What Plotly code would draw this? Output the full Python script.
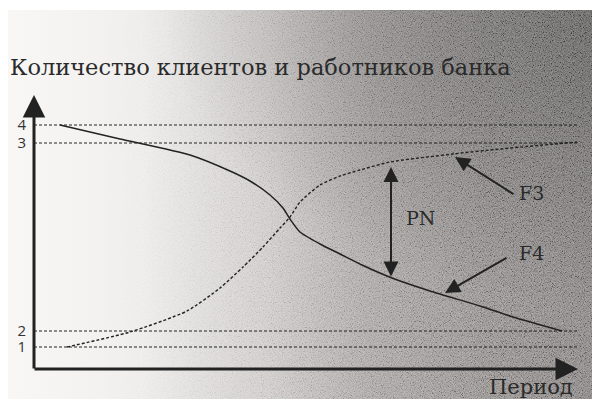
import base64
import plotly.graph_objects as go

# levels on the vertical axis (label -> position on the axis)
level_labels = ["1", "2", "3", "4"]
level_pos = [2.2, 3.8, 22.6, 24.4]

# F4 – staff (solid)
f4_x = [2.6, 8.6, 15.6, 19.6, 21.6, 23.6, 24.9, 25.6, 26.6, 28.6, 30.6, 32.8, 35.8, 39.6, 44.6, 47.9, 52.8]
f4_y = [24.4, 23.0, 21.4, 19.8, 18.8, 17.4, 16.1, 15.0, 13.7, 12.5, 11.5, 10.4, 9.1, 7.8, 6.3, 5.2, 3.8]

# F3 – clients (dashed)
f3_x = [3.3, 9.6, 15.3, 18.6, 20.9, 22.9, 24.6, 25.6, 26.6, 28.6, 30.6, 32.6, 35.6, 41.9, 46.6, 54.3]
f3_y = [2.2, 3.7, 5.8, 8.1, 10.2, 12.2, 14.1, 15.2, 16.7, 18.4, 19.3, 19.9, 20.7, 21.5, 22.0, 22.7]

x_end = 54.3
ink = "#222222"
serif = "DejaVu Serif"

svg = """<svg xmlns="http://www.w3.org/2000/svg" width="620" height="397" viewBox="0 0 620 397">
<defs>
<linearGradient id="g" x1="0" y1="0" x2="1" y2="0">
<stop offset="0" stop-color="#f8f7f6"/>
<stop offset="0.22" stop-color="#f0efee"/>
<stop offset="0.42" stop-color="#d6d3d1"/>
<stop offset="0.58" stop-color="#b2aeac"/>
<stop offset="0.78" stop-color="#94908e"/>
<stop offset="1" stop-color="#807c7a"/>
</linearGradient>
<radialGradient id="r" cx="1" cy="0" r="0.75">
<stop offset="0" stop-color="#000" stop-opacity="0.36"/>
<stop offset="1" stop-color="#000" stop-opacity="0"/>
</radialGradient>
<linearGradient id="mg" x1="0" y1="0" x2="1" y2="0">
<stop offset="0.15" stop-color="#000"/>
<stop offset="0.8" stop-color="#fff"/>
</linearGradient>
<mask id="mk"><rect width="620" height="397" fill="url(#mg)"/></mask>
<filter id="n" x="0" y="0" width="100%" height="100%">
<feTurbulence type="fractalNoise" baseFrequency="1.1 0.8" numOctaves="2" seed="7"/>
<feColorMatrix type="matrix" values="2.0 0 0 0 -0.5 2.0 0 0 0 -0.5 2.0 0 0 0 -0.5 0 0 0 0 1"/>
</filter>
</defs>
<rect width="620" height="397" fill="url(#g)"/>
<rect width="620" height="397" fill="url(#r)"/>
<rect width="620" height="397" filter="url(#n)" opacity="0.3" mask="url(#mk)"/>
</svg>"""
bg_src = "data:image/svg+xml;base64," + base64.b64encode(svg.encode()).decode()

fig = go.Figure()

for y in level_pos:
    fig.add_trace(go.Scatter(x=[0, x_end], y=[y, y], mode="lines",
                             line=dict(color=ink, width=1, dash="3px,2px"),
                             hoverinfo="skip"))

fig.add_trace(go.Scatter(x=f4_x, y=f4_y, mode="lines", name="F4",
                         line=dict(color=ink, width=1.5, shape="spline", smoothing=0.6)))
fig.add_trace(go.Scatter(x=f3_x, y=f3_y, mode="lines", name="F3",
                         line=dict(color=ink, width=1.4, dash="3px,2px", shape="spline", smoothing=0.6)))


def arrow(x0, y0, x1, y1, width=2, size=1.0, side="end", head=2):
    fig.add_annotation(x=x1, y=y1, ax=x0, ay=y0, xref="x", yref="y", axref="x", ayref="y",
                       text="", showarrow=True, arrowhead=head, startarrowhead=head,
                       arrowside=side, arrowsize=size, startarrowsize=size,
                       arrowwidth=width, arrowcolor=ink)


# axes with arrows
arrow(0, -0.1, 0, 27.4, width=3, size=1.5)
arrow(-0.1, 0, 54.4, 0, width=3, size=1.5)
# PN, F3, F4
arrow(35.7, 9.1, 35.7, 20.2, width=2, size=1.5, side="end+start")
arrow(48.1, 17.4, 42.1, 21.2, width=2, size=1.5)
arrow(47.4, 11.2, 41.1, 7.6, width=2, size=1.5)

for txt, x, y in [("PN", 38.6, 15.1), ("F3", 49.7, 17.6), ("F4", 49.7, 11.6)]:
    fig.add_annotation(x=x, y=y, text=txt, showarrow=False, xanchor="center", yanchor="middle",
                       font=dict(family=serif, size=19, color="#2a2a2a"))

# plot area is 574x361; the page adds an 8px body margin
fig.add_annotation(x=541 / 574, y=-18 / 361, xref="paper", yref="paper", text="Период",
                   showarrow=False, xanchor="right", yanchor="middle",
                   font=dict(family=serif, size=21, color="#2a2a2a"))

fig.add_layout_image(dict(source=bg_src, xref="paper", yref="paper",
                          x=-26 / 574, y=1 - 2 / 361, sizex=620 / 574, sizey=397 / 361,
                          xanchor="left", yanchor="top", sizing="stretch", layer="below"))

fig.update_layout(
    width=600, height=399,
    margin=dict(l=26, r=0, t=0, b=38, autoexpand=False),
    paper_bgcolor="white", plot_bgcolor="rgba(0,0,0,0)",
    showlegend=False,
    title=dict(text="Количество клиентов и работников банка", x=2 / 600, xanchor="left",
               y=1 - 59 / 399, yanchor="middle",
               font=dict(family=serif, size=22.5, color="#2a2a2a")),
    xaxis=dict(range=[0, 57.4], visible=False, fixedrange=True),
    yaxis=dict(range=[0, 36.1], showgrid=False, zeroline=False, showline=False, automargin=False,
               tickvals=level_pos, ticktext=level_labels, ticks="", ticklabelstandoff=7,
               tickfont=dict(family="Open Sans", size=15, color="#333333")),
)

fig.write_html("out.html")
